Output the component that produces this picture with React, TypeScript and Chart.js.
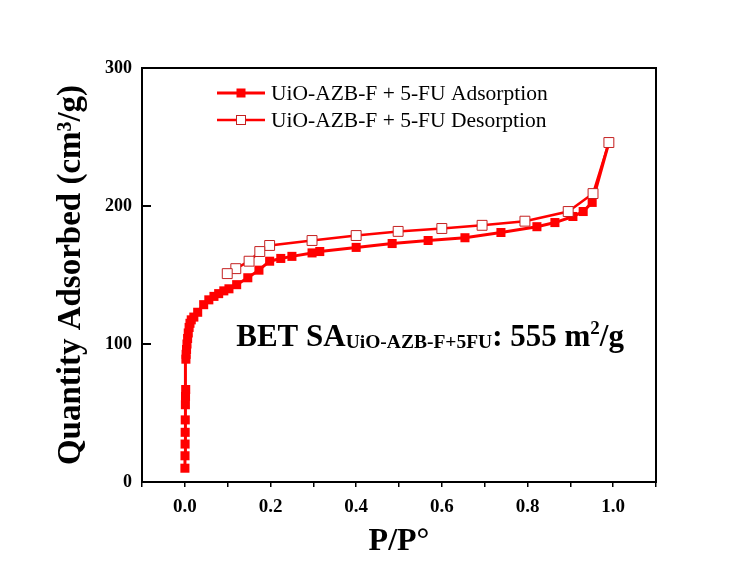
import React, { useEffect, useRef } from "react";
import { Chart, registerables } from "chart.js";

Chart.register(...registerables);

// Relative pressure (P/P°) and quantity adsorbed (cm³/g)
const adsorptionP = [0.0002, 0.0004, 0.0006, 0.0008, 0.001, 0.0013, 0.0016, 0.002, 0.0025, 0.003, 0.004, 0.005, 0.0065, 0.008, 0.01, 0.012, 0.015, 0.021, 0.03, 0.044, 0.056, 0.068, 0.079, 0.091, 0.103, 0.121, 0.147, 0.173, 0.198, 0.224, 0.25, 0.297, 0.315, 0.4, 0.484, 0.568, 0.654, 0.738, 0.822, 0.864, 0.906, 0.93, 0.951, 0.99];
const adsorptionQ = [10, 19, 27.5, 36, 45, 56, 62, 67, 89, 92.5, 96, 100, 104, 108, 112, 115, 117.5, 119.5, 123, 128.5, 132, 134.5, 136.5, 138.5, 140, 143, 148, 153.5, 160, 162, 163.5, 166, 167, 170, 172.8, 175, 177, 180.8, 185, 188, 192.4, 196, 202.6, 246];

const desorptionP = [0.99, 0.953, 0.895, 0.794, 0.694, 0.6, 0.498, 0.4, 0.297, 0.198, 0.175, 0.15, 0.119, 0.099];
const desorptionQ = [246, 209, 196, 189, 186, 183.7, 181.6, 178.6, 175, 171.4, 167, 160, 154.6, 151];

const seriesLabels = ["UiO-AZB-F + 5-FU Adsorption", "UiO-AZB-F + 5-FU Desorption"];
const xTitle = "P/P°";
const yTitle = "Quantity Adsorbed (cm³/g)";
const xRange = [-0.1, 1.1];
const yRange = [0, 300];
const annotationAnchor = { x: 0.12, y: 98.3 };

const SERIF = '"Liberation Serif", "Times New Roman", serif';
const RED = "#ff0000";

const framePlugin = {
  id: "frameAndExtras",
  afterDatasetsDraw(chart: any) {
    const { ctx, chartArea, scales } = chart;
    const { left, right, top, bottom } = chartArea;
    ctx.save();
    // frame
    ctx.strokeStyle = "#000";
    ctx.lineWidth = 2;
    ctx.strokeRect(left, top, right - left, bottom - top);
    // inward y ticks
    const ys = scales.y;
    ctx.lineWidth = 2;
    ys.ticks.forEach((t: any) => {
      const py = Math.round(ys.getPixelForValue(t.value));
      ctx.beginPath();
      ctx.moveTo(left, py);
      ctx.lineTo(left + 9, py);
      ctx.stroke();
    });

    // legend
    const lx = left + 75;
    const rows = [top + 25, top + 52];
    rows.forEach((ry, i) => {
      ctx.strokeStyle = RED;
      ctx.lineWidth = i === 0 ? 3 : 2.5;
      ctx.beginPath();
      ctx.moveTo(lx, ry);
      ctx.lineTo(lx + 48, ry);
      ctx.stroke();
      const s = 9;
      if (i === 0) {
        ctx.fillStyle = RED;
        ctx.fillRect(lx + 24 - s / 2, ry - s / 2, s, s);
      } else {
        ctx.fillStyle = "#fff";
        ctx.fillRect(lx + 24 - s / 2, ry - s / 2, s, s);
        ctx.strokeStyle = "#c42020";
        ctx.lineWidth = 1;
        ctx.strokeRect(lx + 24 - s / 2, ry - s / 2, s, s);
      }
      ctx.fillStyle = "#000";
      ctx.font = `21.5px ${SERIF}`;
      ctx.textBaseline = "middle";
      ctx.textAlign = "left";
      ctx.fillText(seriesLabels[i], lx + 54, ry + 1);
    });

    // BET annotation
    let ax = scales.x.getPixelForValue(annotationAnchor.x);
    const ab = scales.y.getPixelForValue(annotationAnchor.y);
    ctx.fillStyle = "#000";
    ctx.textBaseline = "alphabetic";
    const seg = (text: string, font: string, dy: number) => {
      ctx.font = font;
      ctx.fillText(text, ax, ab + dy);
      ax += ctx.measureText(text).width;
    };
    seg("BET SA", `bold 31px ${SERIF}`, 0);
    seg("UiO-AZB-F+5FU", `bold 19.5px ${SERIF}`, 2);
    seg(": 555 m", `bold 31px ${SERIF}`, 0);
    seg("2", `bold 19px ${SERIF}`, -12);
    seg("/g", `bold 31px ${SERIF}`, 0);
    ctx.restore();
  },
};

export default function App() {
  const ref = useRef<HTMLCanvasElement | null>(null);
  useEffect(() => {
    document.body.style.margin = "0";
    document.body.style.background = "#fff";
    if (!ref.current) return;
    const adsorption = adsorptionP.map((p, i) => ({ x: p, y: adsorptionQ[i] }));
    const desorption = desorptionP.map((p, i) => ({ x: p, y: desorptionQ[i] }));
    const chart = new Chart(ref.current, {
      type: "scatter",
      data: {
        datasets: [
          {
            label: seriesLabels[0],
            data: adsorption,
            showLine: true,
            borderColor: RED,
            borderWidth: 3,
            pointStyle: "rect",
            pointRadius: 6.4,
            pointBackgroundColor: RED,
            pointBorderColor: RED,
            pointBorderWidth: 0,
            order: 2,
          },
          {
            label: seriesLabels[1],
            data: desorption,
            showLine: true,
            borderColor: RED,
            borderWidth: 2.5,
            pointStyle: "rect",
            pointRadius: 7,
            pointBackgroundColor: "#fff",
            pointBorderColor: "#c42020",
            pointBorderWidth: 1,
            order: 1,
          },
        ],
      },
      options: {
        responsive: false,
        animation: false,
        devicePixelRatio: 1,
        layout: { padding: { left: 0, top: 68, right: 90, bottom: 0 } },
        plugins: {
          legend: { display: false },
          tooltip: { enabled: false },
        },
        scales: {
          x: {
            type: "linear",
            min: xRange[0],
            max: xRange[1],
            afterFit: (s: any) => {
              s.height = 89;
            },
            border: { display: true, color: "#000", width: 2 },
            grid: { drawOnChartArea: false, drawTicks: true, tickLength: 5, color: "#000", lineWidth: 1.5 },
            ticks: {
              stepSize: 0.1,
              padding: 9,
              color: "#000",
              font: { family: SERIF, size: 19, weight: "bold" },
              maxRotation: 0,
              autoSkip: false,
              callback: (v: any) => {
                const k = Math.round(Number(v) * 10);
                return k % 2 === 0 && k >= 0 && k <= 10 ? (k / 10).toFixed(1) : "";
              },
            },
            title: {
              display: true,
              text: xTitle,
              color: "#000",
              font: { family: SERIF, size: 32, weight: "bold" },
              padding: { top: 0, bottom: 10 },
            },
          },
          y: {
            type: "linear",
            min: yRange[0],
            max: yRange[1],
            afterFit: (s: any) => {
              s.width = 142;
            },
            border: { display: true, color: "#000", width: 2 },
            grid: { drawOnChartArea: false, drawTicks: false },
            ticks: {
              stepSize: 100,
              padding: 10,
              color: "#000",
              font: { family: SERIF, size: 18, weight: "bold" },
            },
            title: {
              display: true,
              text: yTitle,
              color: "#000",
              font: { family: SERIF, size: 33, weight: "bold" },
              padding: { top: 52, bottom: 0 },
            },
          },
        },
      },
      plugins: [framePlugin],
    });
    return () => chart.destroy();
  }, []);
  return (
    <canvas ref={ref} width={746} height={571} style={{ display: "block", width: 746, height: 571 }} />
  );
}
